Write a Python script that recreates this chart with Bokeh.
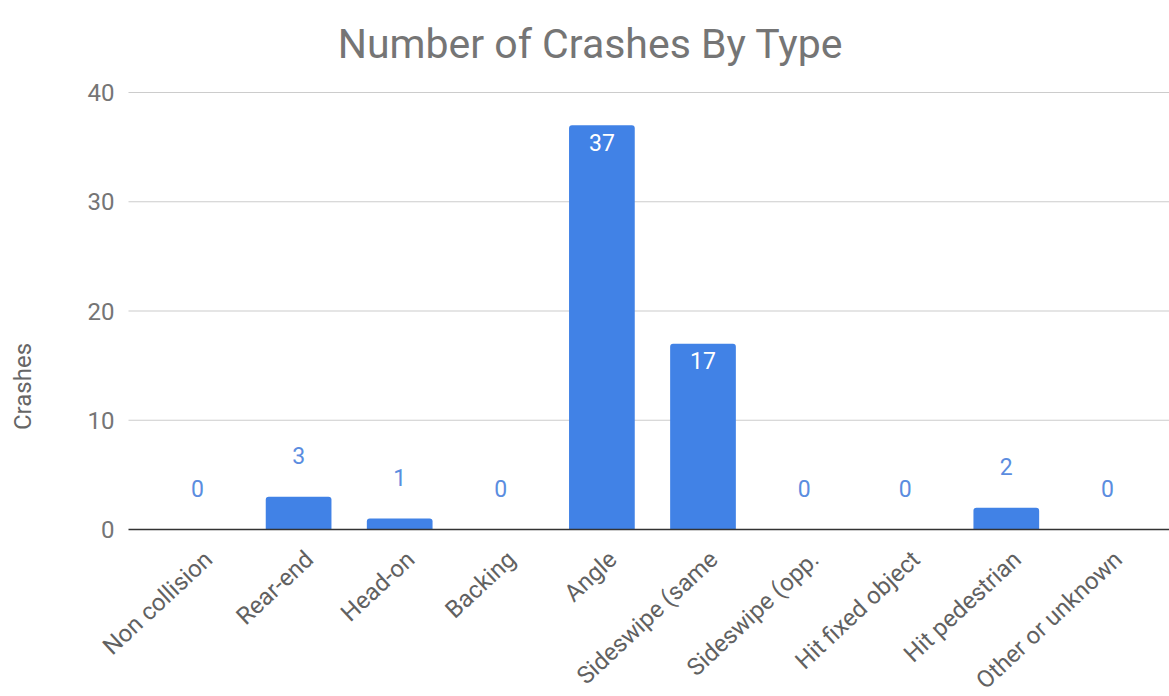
import math
from bokeh.plotting import figure
from bokeh.models import ColumnDataSource, Label, Range1d, FixedTicker
from bokeh.core.properties import value
from bokeh.embed import file_html
from bokeh.resources import INLINE

categories = ["Non collision", "Rear-end", "Head-on", "Backing", "Angle",
              "Sideswipe (same", "Sideswipe (opp.", "Hit fixed object",
              "Hit pedestrian", "Other or unknown"]
crashes = [0, 3, 1, 0, 37, 17, 0, 0, 2, 0]
y_ticks = [0, 10, 20, 30, 40]
title_text = "Number of Crashes By Type"
y_label = "Crashes"

FONT = "Roboto"
BAR = "#4182e6"

# ---- layout geometry (pixels) ----
W, H = 1169, 696
FIRST_CENTER, SLOT = 197.0, 101.1      # x pixel of first category, slot width
GRID_LEFT = 128                        # where grid lines start
Y_TOP_PX, Y_ZERO_PX = 92, 529          # pixel rows of top tick and zero line
ppu = (Y_ZERO_PX - Y_TOP_PX) / y_ticks[-1]


def xd(px):
    return (px - FIRST_CENTER) / SLOT


def yd(py):
    return (Y_ZERO_PX - py) / ppu


p = figure(width=W, height=H, output_backend="svg", toolbar_location=None,
           x_range=Range1d(xd(0), xd(W)), y_range=Range1d(yd(H), yd(0)),
           x_axis_location=None, y_axis_location="left",
           min_border=0)
p.outline_line_color = None
p.background_fill_color = "white"
p.xgrid.visible = False
p.ygrid.visible = False

idx = list(range(len(categories)))
src = ColumnDataSource(dict(x=idx, cat=categories, val=crashes,
                            base=[0] * len(categories)))

# horizontal grid lines from the tick values
grid = ColumnDataSource(dict(y=y_ticks[1:]))
p.segment(x0=xd(GRID_LEFT), x1=xd(W), y0="y", y1="y", source=grid,
          line_color="#cccccc", line_width=1.2)

p.vbar(x="x", top="val", width=0.65, source=src, fill_color=BAR,
       line_color=None, border_radius=(3, 3, 0, 0))

# baseline (zero line)
p.segment(x0=[xd(GRID_LEFT)], x1=[xd(W)], y0=[y_ticks[0]], y1=[y_ticks[0]],
          line_color="#333333", line_width=1.5)

inside = [i for i, v in enumerate(crashes) if v > 10]
outside = [i for i, v in enumerate(crashes) if v <= 10]
src_out = ColumnDataSource(dict(x=outside, val=[crashes[i] for i in outside],
                                lab=[str(crashes[i]) for i in outside]))
src_in = ColumnDataSource(dict(x=inside, val=[crashes[i] for i in inside],
                               lab=[str(crashes[i]) for i in inside]))
p.text(x="x", y="val", text="lab", source=src_out, text_align="center",
       text_baseline="middle", y_offset=-41, text_color="#5b8ddf",
       text_font=value(FONT), text_font_size="23px")
p.text(x="x", y="val", text="lab", source=src_in, text_align="center",
       text_baseline="middle", y_offset=17, text_color="white",
       text_font=value(FONT), text_font_size="23px")

# category labels, rotated under the zero line
p.text(x="x", y="base", text="cat", source=src, angle=math.radians(43),
       text_align="right", text_baseline="middle", x_offset=11, y_offset=26,
       text_font=value(FONT), text_font_size="24px", text_color="#616161")

# value axis, placed at the left end of the grid
p.yaxis.fixed_location = xd(GRID_LEFT + 2)
p.yaxis.ticker = FixedTicker(ticks=y_ticks)
p.yaxis.axis_line_color = None
p.yaxis.major_tick_line_color = None
p.yaxis.minor_tick_line_color = None
p.yaxis.major_label_text_font = FONT
p.yaxis.major_label_text_font_size = "24px"
p.yaxis.major_label_text_color = "#757575"
p.yaxis.major_label_standoff = 10

p.add_layout(Label(x=590, y=H - 43, x_units="screen", y_units="screen",
                   text=title_text, text_font=FONT, text_font_size="41px",
                   text_color="#757575", text_align="center",
                   text_baseline="alphabetic"))
p.add_layout(Label(x=22, y=H - 386, x_units="screen", y_units="screen",
                   text=y_label, text_font=FONT, text_font_size="24px",
                   text_color="#666666", text_align="center",
                   text_baseline="middle", angle=math.pi / 2))

open("out.html", "w").write(file_html(p, INLINE))
